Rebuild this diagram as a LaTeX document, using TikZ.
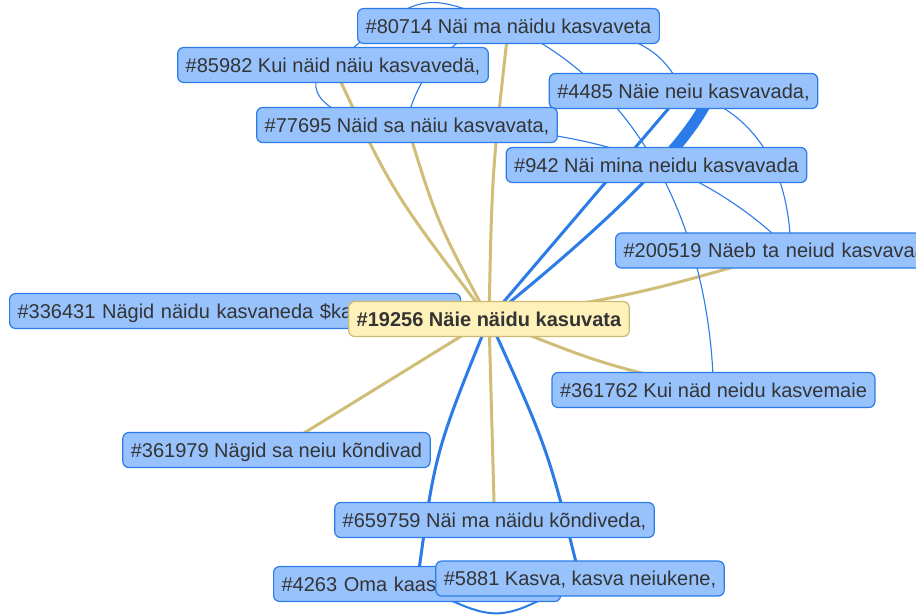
\documentclass[tikz,border=0pt]{standalone}
\usepackage{fontspec}
\setmainfont{Liberation Sans}
\usepackage{xcolor}
\usepackage{tikz}
\usetikzlibrary{backgrounds}

\definecolor{nodefill}{RGB}{151,194,252}
\definecolor{nodeline}{RGB}{43,124,233}
\definecolor{hubfill}{RGB}{255,241,186}
\definecolor{hubline}{RGB}{205,186,115}
\definecolor{linkblue}{RGB}{43,124,233}
\definecolor{linkgold}{RGB}{208,190,120}
\definecolor{txt}{RGB}{52,52,52}

\begin{document}
\begin{tikzpicture}[x=1pt, y=-1pt,
  verse/.style={draw=nodeline, fill=nodefill, line width=1.2pt, rounded corners=6pt,
    inner xsep=8pt, inner ysep=0pt, minimum height=35pt, text height=14.3pt, text depth=0pt,
    text=txt, font=\fontsize{20}{24}\selectfont},
  hub/.style={verse, draw=hubline, fill=hubfill, font=\fontsize{20}{24}\selectfont\bfseries},
  goldlink/.style={draw=linkgold, line width=3pt},
  hublink/.style={draw=linkblue, line width=3pt},
  thinlink/.style={draw=linkblue, line width=1.1pt}]

\useasboundingbox (0,0) rectangle (916,614);

% Upper verses
\node[verse] (v80714) at (508.5,26) {\#80714 Näi ma näidu kasvaveta};
\node[verse] (v85982) at (333,65) {\#85982 Kui näid näiu kasvavedä,};
\node[verse] (v4485) at (683.5,91) {\#4485 Näie neiu kasvavada,};
\node[verse] (v77695) at (407,125) {\#77695 Näid sa näiu kasvavata,};
\node[verse] (v942) at (656.5,165) {\#942 Näi mina neidu kasvavada};
\node[verse, anchor=west, text width=334pt, align=left] (v200519) at (615,250.5) {\#200519 Näeb ta neiud kasvavaa};

% Middle row, the hub on top
\node[verse, anchor=west, text width=435pt, align=left] (v336431) at (9,311) {\#336431 Nägid näidu kasvaneda \$ka};
\node[hub] (v19256) at (489,319) {\#19256 Näie näidu kasuvata};

% Lower verses
\node[verse] (v361762) at (713.5,390) {\#361762 Kui näd neidu kasvemaie};
\node[verse] (v361979) at (276.5,450) {\#361979 Nägid sa neiu kõndivad};
\node[verse] (v659759) at (494.5,520) {\#659759 Näi ma näidu kõndiveda,};
\node[verse, anchor=west, text width=271pt, align=left] (v4263) at (273,584) {\#4263 Oma kaas};
\node[verse] (v5881) at (580,578.5) {\#5881 Kasva, kasva neiukene,};

\begin{scope}[on background layer]
\fill[white] (0,0) rectangle (916,614);

% Gold links from the hub
\draw[goldlink] (v19256.center) .. controls (392,192) .. (v85982.center);
\draw[goldlink] (v19256.center) .. controls (437,222) .. (v77695.center);
\draw[goldlink] (v19256.center) .. controls (492,172) .. (v80714.center);
\draw[goldlink] (v19256.center) .. controls (640,294) .. (v200519.center);
\draw[goldlink] (v19256.center) .. controls (601,364) .. (v361762.center);
\draw[goldlink] (v19256.center) -- (v361979.center);
\draw[goldlink] (v19256.center) -- (v659759.center);

% Blue links from the hub
\draw[hublink] (v19256.center) -- (v4485.center);
\draw[hublink] (v19256.center) .. controls (575,250) and (690,150) .. ([xshift=28pt]v4485.center);
\begin{scope}
\clip (0,0) rectangle (916,165);
\draw[hublink, line width=11pt] (v19256.center) .. controls (575,250) and (690,150) .. ([xshift=28pt]v4485.center);
\end{scope}
\draw[hublink] (v19256.center) .. controls (435,452) .. (v4263.center);
\draw[hublink] (v19256.center) .. controls (548,449) .. (v5881.center);
\draw[hublink, line width=2pt] (v4263.center) .. controls (498,624) .. (v5881.center);

% Thin links between verses
\draw[thinlink] (v85982.center) .. controls (421,-10) .. (v80714.center);
\draw[thinlink] (v85982.center) .. controls (302,74) and (305,122) .. (v77695.center);
\draw[thinlink] (v80714.center) .. controls (440,30) and (410,95) .. (v77695.center);
\draw[thinlink] (v77695.center) .. controls (560,125) and (690,150) .. (v200519.center);
\draw[thinlink] (v80714.center) .. controls (640,85) and (710,230) .. (v361762.center);
\draw[thinlink] (v80714.center) .. controls (650,22) and (665,60) .. (v4485.center);
\draw[thinlink] (v4485.center) .. controls (755,110) and (790,170) .. (v200519.center);
\end{scope}

\end{tikzpicture}
\end{document}
